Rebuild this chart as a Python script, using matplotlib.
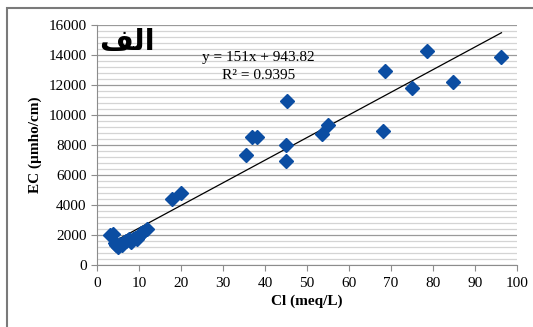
import matplotlib
matplotlib.use("Agg")
from matplotlib import pyplot as plt
from matplotlib.patches import Rectangle
from matplotlib.ticker import MultipleLocator

# Cl (meq/L) vs EC (umho/cm)
cl = [3.0, 3.8, 4.2, 4.6, 5.0, 5.5, 6.0, 6.5, 7.0, 7.5, 8.0, 8.5, 9.0, 9.5, 10.0, 10.5, 11.0, 12.0,
      17.8, 20.0, 35.4, 36.8, 38.2, 45.2, 45.1, 45.0, 53.5, 55.1, 68.2, 68.6, 75.1, 78.6, 84.8, 96.3]
ec = [2000, 2050, 1450, 1300, 1200, 1400, 1350, 1500, 1600, 1700, 1550, 1700, 1800, 1750, 1900, 2100, 2200, 2400,
      4400, 4800, 7300, 8500, 8500, 10900, 8000, 6900, 8750, 9300, 8900, 12950, 11800, 14300, 12200, 13850]

slope = 151
intercept = 943.82
eq_text = "y = 151x + 943.82"
r2_text = "R² = 0.9395"
# "الف" written with presentation forms in visual order (no shaping in matplotlib)
panel_label = "\uFED2\uFEDF\u0627"

plt.rcParams['font.family'] = ['Liberation Serif', 'DejaVu Serif']

fig = plt.figure(figsize=(5.33, 3.27), dpi=100)
ax = fig.add_axes([0.182, 0.19, 0.788, 0.7335])

x_line = [min(cl), max(cl)]
y_line = [slope * v + intercept for v in x_line]
ax.plot(x_line, y_line, color='black', lw=0.9, zorder=3)
ax.plot(cl, ec, linestyle='none', marker='D', markersize=7.5, color='#0b4da2', zorder=4)

ax.set_xlim(0, 100)
ax.set_ylim(0, 16000)
ax.xaxis.set_major_locator(MultipleLocator(10))
ax.yaxis.set_major_locator(MultipleLocator(2000))
ax.yaxis.set_minor_locator(MultipleLocator(400))
ax.grid(which='major', axis='y', color='#9a9a9a', lw=0.9)
ax.grid(which='minor', axis='y', color='#d4d4d4', lw=0.9)
ax.set_axisbelow(True)
for s in ['top', 'right']:
    ax.spines[s].set_visible(False)
for s in ['left', 'bottom']:
    ax.spines[s].set_color('#8c8c8c')
ax.tick_params(which='major', direction='out', length=4, color='#8c8c8c', labelsize=11)
ax.tick_params(axis='x', pad=5)
ax.tick_params(which='minor', length=0)

ax.set_xlabel("Cl (meq/L)", fontsize=11, fontweight='bold', labelpad=3)
ax.set_ylabel("EC (µmho/cm)", fontsize=11, fontweight='bold', labelpad=5)

ax.text(38.3, 13800, eq_text, fontsize=11, ha='center', va='center')
ax.text(38.4, 12600, r2_text, fontsize=11, ha='center', va='center')
ax.text(7.2, 14850, panel_label, fontsize=21, fontweight='bold', ha='center', va='center',
        family=['DejaVu Sans'])

fig.add_artist(Rectangle((7 / 533, -0.1), 1.2, 1.1 - 8 / 327, transform=fig.transFigure,
                         fill=False, edgecolor='#7a7a7a', lw=1.5))

fig.savefig("out.png", dpi=100)
